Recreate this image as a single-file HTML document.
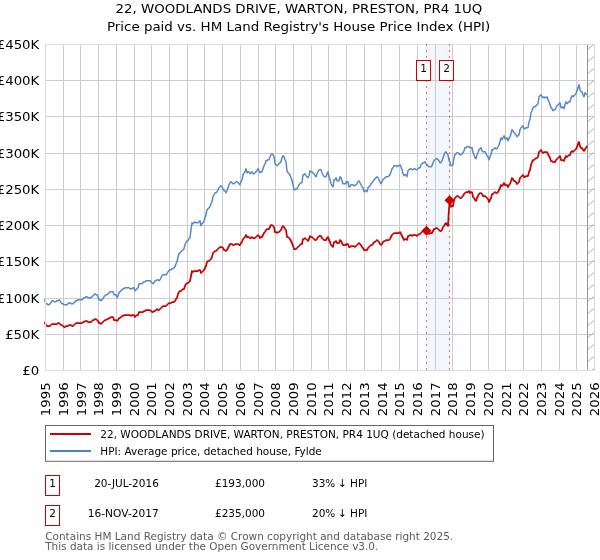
<!DOCTYPE html>
<html lang="en"><head><meta charset="utf-8"><title>22, WOODLANDS DRIVE, WARTON, PRESTON, PR4 1UQ</title>
<style>html,body{margin:0;padding:0;background:#fff}svg{display:block;will-change:transform}text{font-family:"DejaVu Sans","Liberation Sans",sans-serif}</style>
</head><body>
<svg width="600" height="560" viewBox="0 0 600 560">
<rect width="600" height="560" fill="#fff"/>
<defs><clipPath id="ax"><rect x="43.9" y="44.0" width="551.1" height="327.0"/></clipPath><clipPath id="hx"><rect x="588" y="44.5" width="6.5" height="326.0"/></clipPath></defs>
<text transform="translate(298.90,13.00) scale(1,0.926)" font-size="13.37px" text-anchor="middle">22, WOODLANDS DRIVE, WARTON, PRESTON, PR4 1UQ</text>
<text transform="translate(298.60,30.70) scale(1,0.926)" font-size="13.42px" text-anchor="middle">Price paid vs. HM Land Registry's House Price Index (HPI)</text>
<rect x="426.5" y="44.5" width="23.0" height="326.0" fill="#f2f6fd"/>
<g shape-rendering="crispEdges" fill="#cccccc">
<rect x="63" y="45" width="1" height="325"/>
<rect x="80" y="45" width="1" height="325"/>
<rect x="98" y="45" width="1" height="325"/>
<rect x="116" y="45" width="1" height="325"/>
<rect x="134" y="45" width="1" height="325"/>
<rect x="151" y="45" width="1" height="325"/>
<rect x="169" y="45" width="1" height="325"/>
<rect x="187" y="45" width="1" height="325"/>
<rect x="204" y="45" width="1" height="325"/>
<rect x="222" y="45" width="1" height="325"/>
<rect x="240" y="45" width="1" height="325"/>
<rect x="258" y="45" width="1" height="325"/>
<rect x="275" y="45" width="1" height="325"/>
<rect x="293" y="45" width="1" height="325"/>
<rect x="311" y="45" width="1" height="325"/>
<rect x="328" y="45" width="1" height="325"/>
<rect x="346" y="45" width="1" height="325"/>
<rect x="364" y="45" width="1" height="325"/>
<rect x="381" y="45" width="1" height="325"/>
<rect x="399" y="45" width="1" height="325"/>
<rect x="417" y="45" width="1" height="325"/>
<rect x="435" y="45" width="1" height="325"/>
<rect x="452" y="45" width="1" height="325"/>
<rect x="470" y="45" width="1" height="325"/>
<rect x="488" y="45" width="1" height="325"/>
<rect x="505" y="45" width="1" height="325"/>
<rect x="523" y="45" width="1" height="325"/>
<rect x="541" y="45" width="1" height="325"/>
<rect x="559" y="45" width="1" height="325"/>
<rect x="576" y="45" width="1" height="325"/>
<rect x="46" y="334" width="548" height="1"/>
<rect x="46" y="298" width="548" height="1"/>
<rect x="46" y="261" width="548" height="1"/>
<rect x="46" y="225" width="548" height="1"/>
<rect x="46" y="189" width="548" height="1"/>
<rect x="46" y="153" width="548" height="1"/>
<rect x="46" y="116" width="548" height="1"/>
<rect x="46" y="80" width="548" height="1"/>
</g>
<g clip-path="url(#hx)" stroke="#a8a8a8" stroke-width="0.9" fill="none">
<line x1="587.5" y1="49.8" x2="597.5" y2="41.6"/>
<line x1="587.5" y1="61.8" x2="597.5" y2="53.6"/>
<line x1="587.5" y1="73.8" x2="597.5" y2="65.6"/>
<line x1="587.5" y1="85.8" x2="597.5" y2="77.6"/>
<line x1="587.5" y1="97.8" x2="597.5" y2="89.6"/>
<line x1="587.5" y1="109.8" x2="597.5" y2="101.6"/>
<line x1="587.5" y1="121.8" x2="597.5" y2="113.6"/>
<line x1="587.5" y1="133.8" x2="597.5" y2="125.6"/>
<line x1="587.5" y1="145.8" x2="597.5" y2="137.6"/>
<line x1="587.5" y1="157.8" x2="597.5" y2="149.6"/>
<line x1="587.5" y1="169.8" x2="597.5" y2="161.6"/>
<line x1="587.5" y1="181.8" x2="597.5" y2="173.6"/>
<line x1="587.5" y1="193.8" x2="597.5" y2="185.6"/>
<line x1="587.5" y1="205.8" x2="597.5" y2="197.6"/>
<line x1="587.5" y1="217.8" x2="597.5" y2="209.6"/>
<line x1="587.5" y1="229.8" x2="597.5" y2="221.6"/>
<line x1="587.5" y1="241.8" x2="597.5" y2="233.6"/>
<line x1="587.5" y1="253.8" x2="597.5" y2="245.6"/>
<line x1="587.5" y1="265.8" x2="597.5" y2="257.6"/>
<line x1="587.5" y1="277.8" x2="597.5" y2="269.6"/>
<line x1="587.5" y1="289.8" x2="597.5" y2="281.6"/>
<line x1="587.5" y1="301.8" x2="597.5" y2="293.6"/>
<line x1="587.5" y1="313.8" x2="597.5" y2="305.6"/>
<line x1="587.5" y1="325.8" x2="597.5" y2="317.6"/>
<line x1="587.5" y1="337.8" x2="597.5" y2="329.6"/>
<line x1="587.5" y1="349.8" x2="597.5" y2="341.6"/>
<line x1="587.5" y1="361.8" x2="597.5" y2="353.6"/>
<line x1="587.5" y1="373.8" x2="597.5" y2="365.6"/>
<line x1="587.5" y1="385.8" x2="597.5" y2="377.6"/>
<line x1="587.5" y1="397.8" x2="597.5" y2="389.6"/>
</g>
<rect x="587" y="44" width="1" height="326" fill="#969696" shape-rendering="crispEdges"/>
<g clip-path="url(#ax)" fill="none" stroke-linejoin="round" stroke-linecap="butt">
<path d="M44,298.75 L45,300.75 L46,303.75 L47,303.75 L48,304.75 L49,304.75 L50,303.75 L51,302.75 L52,300.75 L53,300.75 L54,301.75 L56,301.75 L57,300.75 L58,300.75 L59,299.75 L60,300.75 L61,302.75 L62,303.75 L63,303.75 L64,304.75 L67,304.75 L68,303.75 L69,302.75 L70,302.75 L71,303.75 L73,303.75 L74,302.75 L75,301.75 L76,300.75 L77,300.75 L78,299.75 L82,299.75 L83,298.75 L84,297.75 L85,297.75 L86,296.75 L87,296.75 L88,297.75 L91,297.75 L92,296.75 L93,295.75 L94,294.75 L95,293.75 L96,294.75 L97,294.75 L98,296.75 L99,299.75 L100,299.75 L101,300.75 L102,299.75 L103,298.75 L104,296.75 L105,295.75 L106,294.75 L107,294.75 L108,293.75 L109,292.75 L110,291.75 L113,291.75 L114,294.75 L116,294.75 L117,297.75 L118,295.75 L119,292.75 L120,291.75 L121,290.75 L122,289.75 L123,288.75 L124,288.75 L125,287.75 L129,287.75 L130,288.75 L132,288.75 L133,287.75 L134,287.75 L135,290.75 L136,289.75 L137,288.75 L138,287.75 L139,283.75 L142,283.75 L143,282.75 L144,281.75 L145,281.75 L146,280.75 L150,280.75 L151,281.75 L152,282.75 L153,283.75 L154,282.75 L155,280.75 L156,280.75 L157,279.75 L158,279.75 L159,280.75 L160,279.75 L161,277.75 L162,275.75 L163,274.75 L166,274.75 L167,273.75 L168,271.75 L169,270.75 L170,269.75 L171,269.75 L172,268.75 L173,268.75 L174,267.75 L175,266.75 L176,263.75 L177,261.75 L178,256.75 L179,253.75 L180,252.75 L181,251.75 L182,250.75 L183,249.75 L184,248.75 L185,244.75 L186,242.75 L187,240.75 L188,240.75 L189,238.75 L190,237.75 L191,229.75 L192,222.75 L193,223.75 L194,222.75 L195,221.75 L196,222.75 L198,222.75 L199,221.75 L200,220.75 L201,225.75 L202,223.75 L203,222.75 L204,220.75 L205,217.75 L206,214.75 L207,209.75 L208,208.75 L209,207.75 L210,206.75 L211,203.75 L212,201.75 L213,196.75 L214,194.75 L215,192.75 L216,192.75 L217,191.75 L218,189.75 L219,187.75 L220,186.75 L221,185.75 L222,186.75 L223,188.75 L224,190.75 L225,190.75 L226,192.75 L227,190.75 L228,187.75 L229,184.75 L230,182.75 L231,181.75 L232,182.75 L233,183.75 L234,183.75 L235,182.75 L236,181.75 L237,181.75 L238,182.75 L239,183.75 L240,184.75 L241,181.75 L242,179.75 L243,174.75 L244,172.75 L245,171.75 L246,168.75 L247,172.75 L248,171.75 L249,171.75 L250,173.75 L251,172.75 L252,171.75 L253,173.75 L254,173.75 L255,172.75 L256,171.75 L257,170.75 L258,168.75 L259,170.75 L260,172.75 L261,171.75 L262,171.75 L263,168.75 L264,165.75 L265,163.75 L266,160.75 L267,160.75 L268,159.75 L269,159.75 L270,156.75 L271,154.75 L272,153.75 L273,154.75 L274,156.75 L275,163.75 L276,164.75 L277,165.75 L278,164.75 L279,163.75 L280,162.75 L281,161.75 L282,157.75 L283,155.75 L284,156.75 L285,159.75 L286,161.75 L287,170.75 L288,172.75 L289,173.75 L290,174.75 L291,177.75 L292,180.75 L293,184.75 L294,189.75 L295,189.75 L296,188.75 L297,188.75 L298,186.75 L299,184.75 L300,183.75 L301,182.75 L302,182.75 L303,174.75 L304,174.75 L305,173.75 L306,175.75 L307,176.75 L308,177.75 L309,175.75 L310,170.75 L311,171.75 L312,171.75 L313,172.75 L314,173.75 L315,175.75 L316,176.75 L317,173.75 L318,171.75 L319,169.75 L321,169.75 L322,172.75 L323,174.75 L324,176.75 L326,176.75 L327,173.75 L328,171.75 L329,176.75 L330,179.75 L331,183.75 L332,185.75 L333,186.75 L334,179.75 L335,179.75 L336,177.75 L337,180.75 L339,180.75 L340,176.75 L341,177.75 L342,180.75 L343,183.75 L346,183.75 L346,181.75 L348,181.75 L349,186.75 L350,186.75 L351,184.75 L353,184.75 L354,185.75 L355,185.75 L356,184.75 L357,183.75 L358,181.75 L359,180.75 L360,182.75 L361,184.75 L362,186.75 L363,187.75 L364,191.75 L365,190.75 L366,190.75 L367,191.75 L368,187.75 L369,186.75 L370,185.75 L371,183.75 L372,182.75 L373,181.75 L374,179.75 L375,178.75 L376,177.75 L377,176.75 L378,177.75 L379,179.75 L380,181.75 L381,183.75 L382,181.75 L383,179.75 L384,178.75 L385,177.75 L386,176.75 L388,176.75 L389,175.75 L390,174.75 L391,171.75 L392,168.75 L393,167.75 L394,165.75 L396,165.75 L397,166.75 L398,165.75 L399,165.75 L400,164.75 L401,166.75 L402,169.75 L403,173.75 L404,175.75 L405,174.75 L406,174.75 L407,176.75 L408,170.75 L409,169.75 L410,168.75 L411,168.75 L412,169.75 L413,169.75 L414,168.75 L415,168.75 L416,169.75 L417,169.75 L418,168.75 L419,167.75 L420,167.75 L421,164.75 L422,163.75 L423,162.75 L424,162.75 L425,161.75 L426,163.75 L427,164.75 L428,165.75 L429,166.75 L431,166.75 L432,165.75 L433,162.75 L434,160.75 L435,159.75 L436,158.75 L437,158.75 L438,159.75 L439,160.75 L440,162.75 L441,162.75 L442,160.75 L443,157.75 L444,154.75 L445,152.75 L446,151.75 L447,153.75 L448,154.75 L449,159.75 L450,162.75 L451,165.75 L452,165.75 L453,164.75 L454,157.75 L455,154.75 L456,153.75 L457,152.75 L458,152.75 L459,153.75 L460,154.75 L461,154.75 L462,153.75 L463,152.75 L464,150.75 L465,147.75 L466,147.75 L467,146.75 L469,146.75 L470,147.75 L472,147.75 L473,152.75 L474,154.75 L475,157.75 L476,158.75 L477,154.75 L478,152.75 L479,149.75 L480,148.75 L481,147.75 L482,150.75 L483,151.75 L485,151.75 L486,153.75 L487,155.75 L488,156.75 L489,159.75 L490,156.75 L491,154.75 L492,149.75 L493,149.75 L494,148.75 L495,147.75 L496,148.75 L497,148.75 L498,146.75 L499,144.75 L500,141.75 L501,137.75 L502,139.75 L503,137.75 L504,135.75 L505,138.75 L506,138.75 L507,137.75 L508,140.75 L509,138.75 L510,136.75 L511,133.75 L512,129.75 L513,130.75 L514,132.75 L515,133.75 L516,134.75 L517,136.75 L518,135.75 L519,134.75 L520,129.75 L521,127.75 L522,126.75 L523,125.75 L524,128.75 L525,128.75 L526,127.75 L528,127.75 L529,121.75 L530,119.75 L531,112.75 L532,110.75 L533,107.75 L534,106.75 L535,106.75 L536,105.75 L537,104.75 L538,103.75 L539,96.75 L540,95.75 L541,94.75 L542,96.75 L543,97.75 L544,96.75 L545,97.75 L546,97.75 L547,96.75 L548,99.75 L549,101.75 L550,104.75 L551,107.75 L552,108.75 L553,110.75 L554,109.75 L555,109.75 L556,107.75 L557,105.75 L558,104.75 L559,103.75 L560,102.75 L561,107.75 L562,107.75 L563,106.75 L564,108.75 L565,104.75 L566,101.75 L567,103.75 L568,102.75 L569,101.75 L570,101.75 L571,97.75 L572,95.75 L573,96.75 L574,95.75 L575,94.75 L576,93.75 L577,90.75 L578,87.75 L579,84.75 L580,89.75 L581,91.75 L582,91.75 L583,94.75 L584,96.75 L585,92.75 L586,93.75 L587,94.75" stroke="#5488ce" stroke-width="1.5"/>
<path d="M44,322 L45,323 L46,325 L47,326 L50,326 L51,325 L52,324 L57,324 L58,323 L59,323 L60,324 L61,325 L62,325 L63,326 L64,327 L65,327 L66,326 L68,326 L69,325 L71,325 L72,326 L73,326 L74,325 L75,324 L76,323 L82,323 L83,322 L84,322 L85,321 L87,321 L88,322 L91,322 L92,321 L93,320 L94,320 L95,319 L96,319 L97,320 L98,321 L99,323 L100,323 L101,324 L102,323 L103,322 L104,321 L105,320 L106,320 L107,319 L108,319 L109,318 L110,318 L111,317 L113,317 L114,320 L116,320 L117,321 L118,320 L119,318 L120,318 L121,317 L122,316 L123,316 L124,315 L130,315 L131,316 L132,315 L134,315 L135,317 L136,316 L137,315 L138,315 L139,312 L143,312 L144,311 L145,311 L146,310 L150,310 L151,311 L152,312 L153,312 L154,311 L155,311 L156,310 L157,309 L158,310 L159,310 L160,309 L161,308 L162,307 L163,306 L166,306 L167,305 L168,304 L169,303 L171,303 L172,302 L174,302 L175,301 L176,299 L177,298 L178,294 L179,292 L180,291 L181,291 L182,290 L183,289 L184,289 L185,286 L186,284 L187,283 L188,283 L189,282 L190,281 L191,276 L192,271 L193,272 L194,271 L198,271 L199,270 L200,270 L201,273 L202,272 L203,271 L204,270 L205,268 L206,266 L207,262 L208,261 L209,261 L210,260 L211,259 L212,257 L213,253 L214,252 L215,251 L216,251 L217,250 L218,249 L219,248 L220,247 L222,247 L223,248 L224,250 L225,250 L226,251 L227,250 L228,248 L229,246 L230,244 L232,244 L233,245 L234,245 L235,244 L238,244 L239,245 L240,245 L241,243 L242,242 L243,239 L244,238 L245,237 L246,235 L247,237 L249,237 L250,238 L251,238 L252,237 L253,238 L255,238 L256,237 L257,236 L258,235 L259,236 L260,238 L261,237 L262,237 L263,235 L264,233 L265,232 L266,230 L267,229 L269,229 L270,227 L271,225 L272,225 L273,226 L274,227 L275,232 L276,232 L277,233 L278,232 L279,232 L280,231 L281,230 L282,227 L283,226 L284,227 L285,229 L286,230 L287,237 L288,237 L289,238 L290,239 L291,241 L292,243 L293,246 L294,249 L296,249 L297,248 L298,247 L299,246 L300,245 L301,244 L302,244 L303,239 L304,239 L305,238 L306,239 L307,240 L308,241 L309,239 L310,236 L311,237 L312,237 L313,238 L314,239 L315,240 L316,240 L317,239 L318,237 L319,236 L321,236 L322,238 L323,239 L324,240 L326,240 L327,238 L328,237 L329,240 L330,242 L331,245 L332,246 L333,247 L334,242 L335,242 L336,241 L337,243 L339,243 L340,240 L341,241 L342,243 L343,245 L346,245 L346,244 L348,244 L349,247 L350,247 L351,246 L354,246 L355,247 L356,246 L357,245 L358,244 L359,243 L360,244 L361,245 L362,247 L363,248 L364,250 L367,250 L368,248 L369,247 L370,246 L371,245 L372,245 L373,244 L374,242 L375,242 L376,241 L377,240 L378,241 L379,242 L380,244 L381,245 L382,244 L383,242 L384,241 L385,241 L386,240 L389,240 L390,239 L391,237 L392,235 L393,234 L394,233 L399,233 L400,232 L401,234 L402,236 L403,238 L404,240 L405,239 L406,239 L407,240 L408,236 L409,236 L410,235 L411,235 L412,236 L413,235 L416,235 L417,236 L418,235 L419,234 L420,234 L421,233 L422,232 L423,231 L424,231 L425,230 L426,232 L427,232 L428,233 L429,234 L430,233 L432,233 L433,231 L434,229 L435,229 L436,228 L437,228 L438,229 L439,230 L440,231 L441,231 L442,230 L443,227 L444,226 L445,224 L446,223 L447,225 L448,226 L449,208 L450,200 L451,207 L452,206 L453,206 L454,200 L455,198 L456,197 L457,196 L458,196 L459,197 L460,198 L461,198 L462,197 L463,196 L464,194 L465,193 L466,192 L468,192 L469,191 L470,193 L471,192 L472,192 L473,197 L474,198 L475,200 L476,201 L477,198 L478,196 L479,194 L480,193 L481,193 L482,194 L483,196 L485,196 L486,197 L487,198 L488,199 L489,202 L490,200 L491,198 L492,194 L493,194 L494,193 L495,192 L496,193 L497,193 L498,192 L499,190 L500,188 L501,185 L502,186 L503,185 L504,183 L505,185 L507,185 L508,187 L509,185 L510,184 L511,181 L512,178 L513,179 L514,181 L515,181 L516,182 L517,184 L518,183 L519,182 L520,178 L521,177 L522,176 L523,175 L524,177 L525,177 L526,176 L528,176 L529,172 L530,170 L531,165 L532,162 L533,160 L534,160 L535,159 L536,158 L537,158 L538,157 L539,152 L540,151 L541,150 L542,152 L543,153 L544,152 L547,152 L548,154 L549,156 L550,158 L551,161 L552,161 L553,162 L555,162 L556,160 L557,159 L558,158 L559,157 L560,156 L561,160 L563,160 L564,161 L565,158 L566,156 L567,157 L568,156 L569,155 L570,155 L571,152 L572,151 L573,152 L574,151 L575,150 L576,149 L577,147 L578,144 L579,142 L580,146 L581,148 L582,148 L583,150 L584,151 L585,149 L586,148 L587,146" stroke="#cc0000" stroke-width="1.75"/>
</g>
<g shape-rendering="crispEdges" fill="#dcdcdc">
<rect x="45" y="44" width="550" height="1"/>
<rect x="45" y="370" width="550" height="1"/>
<rect x="45" y="44" width="1" height="327"/>
<rect x="594" y="44" width="1" height="327"/>
</g>
<path d="M426.5,225.68 L431.5,230.68 L426.5,235.68 L421.5,230.68 Z" fill="#cc0000"/>
<path d="M449.5,195.26 L454.5,200.26 L449.5,205.26 L444.5,200.26 Z" fill="#cc0000"/>
<line x1="426.5" y1="44" x2="426.5" y2="371" stroke="#ff0000" stroke-opacity="0.6" stroke-width="1" stroke-dasharray="2 4" shape-rendering="crispEdges"/>
<line x1="449.5" y1="44" x2="449.5" y2="371" stroke="#ff0000" stroke-opacity="0.6" stroke-width="1" stroke-dasharray="2 4" shape-rendering="crispEdges"/>
<rect x="416.5" y="60.5" width="14" height="20" fill="#fff" stroke="#cc0000" stroke-width="1" shape-rendering="crispEdges"/>
<text transform="translate(423.50,71.70) scale(1,0.92)" font-size="10.6px" text-anchor="middle">1</text>
<rect x="439.5" y="60.5" width="14" height="20" fill="#fff" stroke="#cc0000" stroke-width="1" shape-rendering="crispEdges"/>
<text transform="translate(446.50,71.70) scale(1,0.92)" font-size="10.6px" text-anchor="middle">2</text>
<text transform="translate(39.30,375.00) scale(1,0.926)" font-size="13.33px" text-anchor="end">£0</text>
<text transform="translate(39.30,338.78) scale(1,0.926)" font-size="13.33px" text-anchor="end">£50K</text>
<text transform="translate(39.30,302.56) scale(1,0.926)" font-size="13.33px" text-anchor="end">£100K</text>
<text transform="translate(39.30,266.33) scale(1,0.926)" font-size="13.33px" text-anchor="end">£150K</text>
<text transform="translate(39.30,230.11) scale(1,0.926)" font-size="13.33px" text-anchor="end">£200K</text>
<text transform="translate(39.30,193.89) scale(1,0.926)" font-size="13.33px" text-anchor="end">£250K</text>
<text transform="translate(39.30,157.67) scale(1,0.926)" font-size="13.33px" text-anchor="end">£300K</text>
<text transform="translate(39.30,121.44) scale(1,0.926)" font-size="13.33px" text-anchor="end">£350K</text>
<text transform="translate(39.30,85.22) scale(1,0.926)" font-size="13.33px" text-anchor="end">£400K</text>
<text transform="translate(39.30,49.00) scale(1,0.926)" font-size="13.33px" text-anchor="end">£450K</text>
<text transform="translate(50.10,382.30) rotate(-90) scale(1,0.926)" font-size="13.33px" text-anchor="end">1995</text>
<text transform="translate(67.81,382.30) rotate(-90) scale(1,0.926)" font-size="13.33px" text-anchor="end">1996</text>
<text transform="translate(85.52,382.30) rotate(-90) scale(1,0.926)" font-size="13.33px" text-anchor="end">1997</text>
<text transform="translate(103.23,382.30) rotate(-90) scale(1,0.926)" font-size="13.33px" text-anchor="end">1998</text>
<text transform="translate(120.94,382.30) rotate(-90) scale(1,0.926)" font-size="13.33px" text-anchor="end">1999</text>
<text transform="translate(138.65,382.30) rotate(-90) scale(1,0.926)" font-size="13.33px" text-anchor="end">2000</text>
<text transform="translate(156.36,382.30) rotate(-90) scale(1,0.926)" font-size="13.33px" text-anchor="end">2001</text>
<text transform="translate(174.07,382.30) rotate(-90) scale(1,0.926)" font-size="13.33px" text-anchor="end">2002</text>
<text transform="translate(191.78,382.30) rotate(-90) scale(1,0.926)" font-size="13.33px" text-anchor="end">2003</text>
<text transform="translate(209.49,382.30) rotate(-90) scale(1,0.926)" font-size="13.33px" text-anchor="end">2004</text>
<text transform="translate(227.20,382.30) rotate(-90) scale(1,0.926)" font-size="13.33px" text-anchor="end">2005</text>
<text transform="translate(244.91,382.30) rotate(-90) scale(1,0.926)" font-size="13.33px" text-anchor="end">2006</text>
<text transform="translate(262.62,382.30) rotate(-90) scale(1,0.926)" font-size="13.33px" text-anchor="end">2007</text>
<text transform="translate(280.33,382.30) rotate(-90) scale(1,0.926)" font-size="13.33px" text-anchor="end">2008</text>
<text transform="translate(298.04,382.30) rotate(-90) scale(1,0.926)" font-size="13.33px" text-anchor="end">2009</text>
<text transform="translate(315.75,382.30) rotate(-90) scale(1,0.926)" font-size="13.33px" text-anchor="end">2010</text>
<text transform="translate(333.45,382.30) rotate(-90) scale(1,0.926)" font-size="13.33px" text-anchor="end">2011</text>
<text transform="translate(351.16,382.30) rotate(-90) scale(1,0.926)" font-size="13.33px" text-anchor="end">2012</text>
<text transform="translate(368.87,382.30) rotate(-90) scale(1,0.926)" font-size="13.33px" text-anchor="end">2013</text>
<text transform="translate(386.58,382.30) rotate(-90) scale(1,0.926)" font-size="13.33px" text-anchor="end">2014</text>
<text transform="translate(404.29,382.30) rotate(-90) scale(1,0.926)" font-size="13.33px" text-anchor="end">2015</text>
<text transform="translate(422.00,382.30) rotate(-90) scale(1,0.926)" font-size="13.33px" text-anchor="end">2016</text>
<text transform="translate(439.71,382.30) rotate(-90) scale(1,0.926)" font-size="13.33px" text-anchor="end">2017</text>
<text transform="translate(457.42,382.30) rotate(-90) scale(1,0.926)" font-size="13.33px" text-anchor="end">2018</text>
<text transform="translate(475.13,382.30) rotate(-90) scale(1,0.926)" font-size="13.33px" text-anchor="end">2019</text>
<text transform="translate(492.84,382.30) rotate(-90) scale(1,0.926)" font-size="13.33px" text-anchor="end">2020</text>
<text transform="translate(510.55,382.30) rotate(-90) scale(1,0.926)" font-size="13.33px" text-anchor="end">2021</text>
<text transform="translate(528.26,382.30) rotate(-90) scale(1,0.926)" font-size="13.33px" text-anchor="end">2022</text>
<text transform="translate(545.97,382.30) rotate(-90) scale(1,0.926)" font-size="13.33px" text-anchor="end">2023</text>
<text transform="translate(563.68,382.30) rotate(-90) scale(1,0.926)" font-size="13.33px" text-anchor="end">2024</text>
<text transform="translate(581.39,382.30) rotate(-90) scale(1,0.926)" font-size="13.33px" text-anchor="end">2025</text>
<text transform="translate(599.10,382.30) rotate(-90) scale(1,0.926)" font-size="13.33px" text-anchor="end">2026</text>
<rect x="45.5" y="425.5" width="448" height="35.8" fill="#fff" stroke="#666666" stroke-width="1"/>
<line x1="50" y1="434" x2="91" y2="434" stroke="#cc0000" stroke-width="2"/>
<line x1="50" y1="451" x2="91" y2="451" stroke="#4b82c8" stroke-width="2"/>
<text transform="translate(100.30,437.90) scale(1,0.92)" font-size="10.515px">22, WOODLANDS DRIVE, WARTON, PRESTON, PR4 1UQ (detached house)</text>
<text transform="translate(100.30,454.80) scale(1,0.92)" font-size="10.5px">HPI: Average price, detached house, Fylde</text>
<rect x="45.5" y="475.5" width="14" height="20" fill="#fff" stroke="#cc0000" stroke-width="1" shape-rendering="crispEdges"/>
<text transform="translate(52.50,486.70) scale(1,0.92)" font-size="10.5px" text-anchor="middle">1</text>
<text transform="translate(158.80,486.70) scale(1,0.92)" font-size="10.5px" text-anchor="end">20-JUL-2016</text>
<text transform="translate(215.00,486.70) scale(1,0.92)" font-size="10.5px">£193,000</text>
<text transform="translate(312.00,486.70) scale(1,0.92)" font-size="10.5px">33%</text>
<text transform="translate(338.10,486.70) scale(1,1.05)" font-size="10.5px">↓</text>
<text transform="translate(350.05,486.70) scale(1,0.92)" font-size="10.5px">HPI</text>
<rect x="45.5" y="505.5" width="14" height="20" fill="#fff" stroke="#cc0000" stroke-width="1" shape-rendering="crispEdges"/>
<text transform="translate(52.50,516.70) scale(1,0.92)" font-size="10.5px" text-anchor="middle">2</text>
<text transform="translate(158.80,516.70) scale(1,0.92)" font-size="10.64px" text-anchor="end">16-NOV-2017</text>
<text transform="translate(215.00,516.70) scale(1,0.92)" font-size="10.5px">£235,000</text>
<text transform="translate(312.00,516.70) scale(1,0.92)" font-size="10.5px">20%</text>
<text transform="translate(338.10,516.70) scale(1,1.05)" font-size="10.5px">↓</text>
<text transform="translate(350.05,516.70) scale(1,0.92)" font-size="10.5px">HPI</text>
<text transform="translate(45.20,539.60) scale(1,0.92)" font-size="10.5px" fill="#5a5a5a">Contains HM Land Registry data © Crown copyright and database right 2025.</text>
<text transform="translate(45.20,549.60) scale(1,0.92)" font-size="10.46px" fill="#5a5a5a">This data is licensed under the Open Government Licence v3.0.</text>
</svg></body></html>
